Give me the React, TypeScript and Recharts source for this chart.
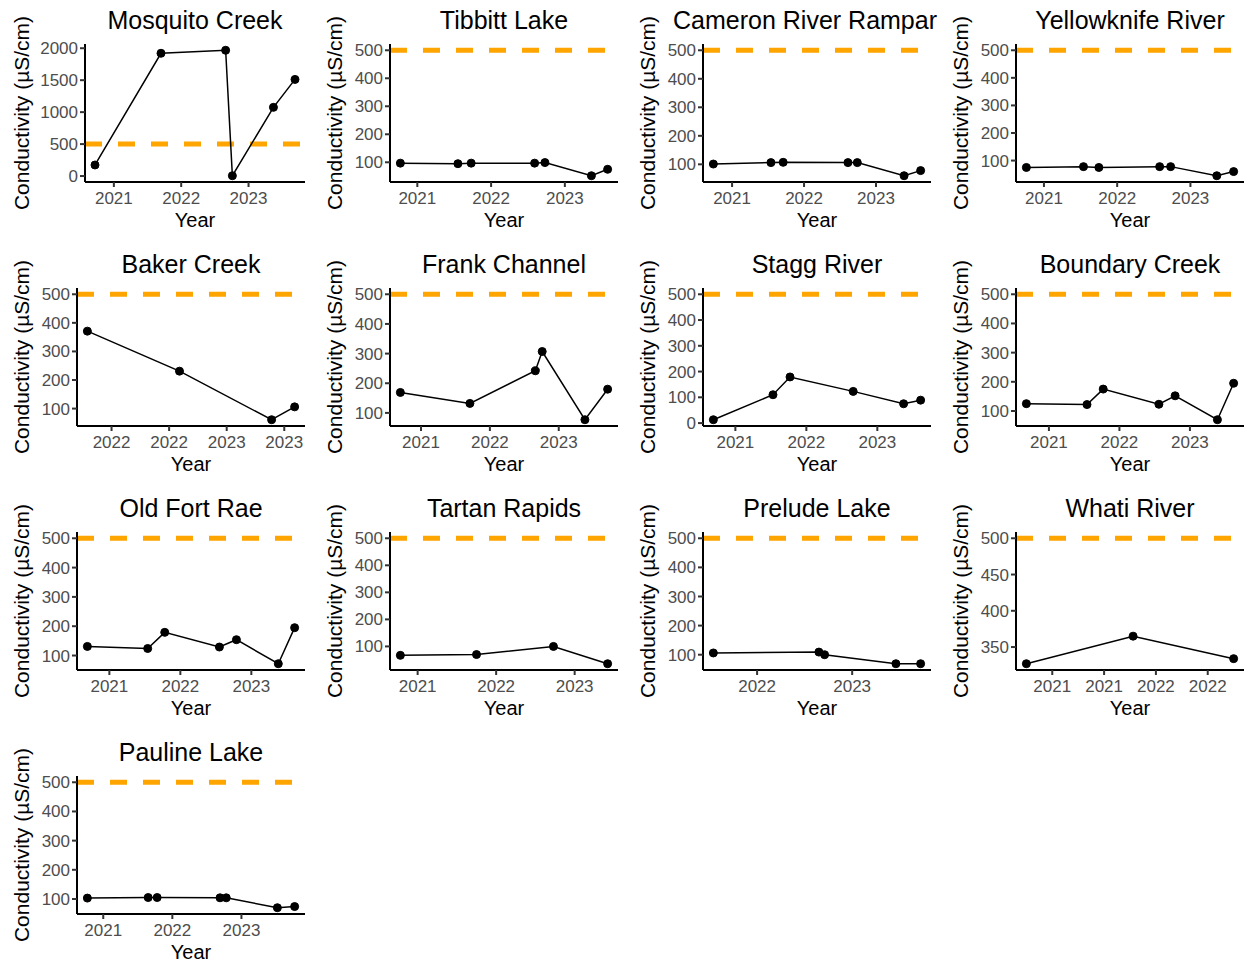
import React from 'react';
import { LineChart, Line, XAxis, YAxis, ReferenceLine } from 'recharts';

// Conductivity guideline (µS/cm), drawn as the dashed orange line
const GUIDELINE = 500;

// Sampling dates as decimal years, conductivity in µS/cm
const mosquitoYears = [2020.72, 2021.7, 2022.66, 2022.76, 2023.37, 2023.69];
const mosquitoValues = [173, 1921, 1968, 5, 1075, 1512];

const tibbittYears = [2020.77, 2021.55, 2021.73, 2022.59, 2022.73, 2023.36, 2023.58];
const tibbittValues = [97, 95, 97, 97, 99, 52, 75];

const cameronYears = [2020.74, 2021.54, 2021.71, 2022.61, 2022.74, 2023.39, 2023.62];
const cameronValues = [101, 106, 107, 106, 106, 60, 78];

const yellowknifeYears = [2020.76, 2021.54, 2021.75, 2022.58, 2022.73, 2023.36, 2023.59];
const yellowknifeValues = [75, 78, 75, 78, 78, 45, 60];

const bakerYears = [2021.79, 2022.59, 2023.39, 2023.59];
const bakerValues = [371, 231, 61, 106];

const frankYears = [2020.7, 2021.71, 2022.66, 2022.76, 2023.38, 2023.71];
const frankValues = [169, 132, 242, 307, 77, 180];

const staggYears = [2020.69, 2021.53, 2021.77, 2022.66, 2023.37, 2023.61];
const staggValues = [13, 110, 179, 123, 75, 89];

const boundaryYears = [2020.68, 2021.54, 2021.77, 2022.56, 2022.79, 2023.39, 2023.62];
const boundaryValues = [125, 122, 175, 123, 152, 70, 195];

const oldFortRaeYears = [2020.69, 2021.54, 2021.78, 2022.55, 2022.79, 2023.38, 2023.61];
const oldFortRaeValues = [131, 124, 179, 129, 154, 72, 195];

const tartanYears = [2020.78, 2021.75, 2022.73, 2023.42];
const tartanValues = [67, 70, 100, 36];

const preludeYears = [2021.54, 2022.65, 2022.71, 2023.46, 2023.72];
const preludeValues = [106, 109, 100, 69, 69];

const whatiYears = [2020.75, 2021.78, 2022.75];
const whatiValues = [327, 365, 334];

const paulineYears = [2020.77, 2021.65, 2021.78, 2022.69, 2022.78, 2023.52, 2023.77];
const paulineValues = [103, 105, 105, 104, 104, 70, 74];

// Axis breaks
const YEAR_TICKS = [2021, 2022, 2023];
const BAKER_TICKS = [2022, 2022.5, 2023, 2023.5];
const PRELUDE_TICKS = [2022, 2023];
const WHATI_X_TICKS = [2021, 2021.5, 2022, 2022.5];

const HUNDREDS = [100, 200, 300, 400, 500];
const HUNDREDS_FROM_ZERO = [0, 100, 200, 300, 400, 500];
const MOSQUITO_Y_TICKS = [0, 500, 1000, 1500, 2000];
const WHATI_Y_TICKS = [350, 400, 450, 500];

interface Station {
  name: string;
  years: number[];
  values: number[];
  xTicks: number[];
  yTicks: number[];
}

const STATIONS: Station[] = [
  { name: 'Mosquito Creek', years: mosquitoYears, values: mosquitoValues, xTicks: YEAR_TICKS, yTicks: MOSQUITO_Y_TICKS },
  { name: 'Tibbitt Lake', years: tibbittYears, values: tibbittValues, xTicks: YEAR_TICKS, yTicks: HUNDREDS },
  { name: 'Cameron River Rampar', years: cameronYears, values: cameronValues, xTicks: YEAR_TICKS, yTicks: HUNDREDS },
  { name: 'Yellowknife River', years: yellowknifeYears, values: yellowknifeValues, xTicks: YEAR_TICKS, yTicks: HUNDREDS },
  { name: 'Baker Creek', years: bakerYears, values: bakerValues, xTicks: BAKER_TICKS, yTicks: HUNDREDS },
  { name: 'Frank Channel', years: frankYears, values: frankValues, xTicks: YEAR_TICKS, yTicks: HUNDREDS },
  { name: 'Stagg River', years: staggYears, values: staggValues, xTicks: YEAR_TICKS, yTicks: HUNDREDS_FROM_ZERO },
  { name: 'Boundary Creek', years: boundaryYears, values: boundaryValues, xTicks: YEAR_TICKS, yTicks: HUNDREDS },
  { name: 'Old Fort Rae', years: oldFortRaeYears, values: oldFortRaeValues, xTicks: YEAR_TICKS, yTicks: HUNDREDS },
  { name: 'Tartan Rapids', years: tartanYears, values: tartanValues, xTicks: YEAR_TICKS, yTicks: HUNDREDS },
  { name: 'Prelude Lake', years: preludeYears, values: preludeValues, xTicks: PRELUDE_TICKS, yTicks: HUNDREDS },
  { name: 'Whati River', years: whatiYears, values: whatiValues, xTicks: WHATI_X_TICKS, yTicks: WHATI_Y_TICKS },
  { name: 'Pauline Lake', years: paulineYears, values: paulineValues, xTicks: YEAR_TICKS, yTicks: HUNDREDS },
];

const FONT = '"Liberation Sans", Arial, sans-serif';
const PANEL_W = 313;
const PANEL_H = 244;
const PLOT_TOP = 44;
const PLOT_RIGHT = 305;
const X_AXIS_H = 62;
const PLOT_BOTTOM = PANEL_H - X_AXIS_H;
const TITLE_RIGHT = PANEL_W - 2;

// ggplot-style 5% padding around the data range
const expand = (lo: number, hi: number): [number, number] => {
  const pad = (hi - lo) * 0.05;
  return [lo - pad, hi + pad];
};

function StationPanel({ station, col, row }: { station: Station; col: number; row: number }) {
  const { name, years, values, xTicks, yTicks } = station;
  const data = years.map((year, i) => ({ year, value: values[i] }));
  const xDomain = expand(Math.min(...years), Math.max(...years));
  const yDomain = expand(Math.min(...values, GUIDELINE), Math.max(...values, GUIDELINE));
  const axisWidth = Math.max(...yTicks) >= 1000 ? 85 : 77;
  const midX = (axisWidth + PLOT_RIGHT) / 2;
  const midY = (PLOT_TOP + PLOT_BOTTOM) / 2;
  // title box is symmetric about the plot centre; long titles get pushed left
  const titleLeft = 2 * midX - TITLE_RIGHT;

  return (
    <div
      style={{
        position: 'absolute',
        left: col * PANEL_W,
        top: row * PANEL_H,
        width: PANEL_W,
        height: PANEL_H,
      }}
    >
      <div
        style={{
          position: 'absolute',
          left: titleLeft,
          width: TITLE_RIGHT - titleLeft,
          top: 8,
          display: 'flex',
          justifyContent: 'flex-end',
          whiteSpace: 'nowrap',
          fontSize: 25,
          lineHeight: 1,
          color: '#000',
        }}
      >
        <span style={{ marginLeft: 'auto', marginRight: 'auto' }}>{name}</span>
      </div>
      <LineChart
        width={PANEL_W}
        height={PANEL_H}
        data={data}
        margin={{ top: PLOT_TOP, right: PANEL_W - PLOT_RIGHT, bottom: 0, left: 0 }}
      >
        <XAxis
          dataKey="year"
          type="number"
          domain={xDomain}
          allowDataOverflow
          ticks={xTicks}
          interval={0}
          tickFormatter={(v: number) => String(Math.floor(v))}
          height={X_AXIS_H}
          axisLine={{ stroke: '#000', strokeWidth: 2 }}
          tickLine={{ stroke: '#333', strokeWidth: 2 }}
          tickSize={5}
          tickMargin={5}
          tick={{ fill: '#4D4D4D', fontSize: 17 }}
          label={{
            value: 'Year',
            content: () => (
              <text x={midX} y={227} textAnchor="middle" fontSize={20} fill="#000">
                Year
              </text>
            ),
          }}
        />
        <YAxis
          type="number"
          domain={yDomain}
          allowDataOverflow
          ticks={yTicks}
          interval={0}
          width={axisWidth}
          axisLine={{ stroke: '#000', strokeWidth: 2 }}
          tickLine={{ stroke: '#333', strokeWidth: 2 }}
          tickSize={5}
          tickMargin={2}
          tick={{ fill: '#4D4D4D', fontSize: 17 }}
          label={{
            value: 'Conductivity (µS/cm)',
            content: () => (
              <text
                x={29}
                y={midY}
                transform={`rotate(-90, 29, ${midY})`}
                textAnchor="middle"
                fontSize={21}
                fill="#000"
              >
                Conductivity (µS/cm)
              </text>
            ),
          }}
        />
        <ReferenceLine y={GUIDELINE} stroke="#FFA500" strokeWidth={5} strokeDasharray="17 16" />
        <Line
          type="linear"
          dataKey="value"
          stroke="#000"
          strokeWidth={1.5}
          dot={{ r: 4, fill: '#000', stroke: '#000', strokeWidth: 1 }}
          activeDot={false}
          isAnimationActive={false}
        />
      </LineChart>
    </div>
  );
}

export default function App() {
  return (
    <div
      style={{
        position: 'absolute',
        left: 0,
        top: 0,
        width: 1247,
        height: 967,
        overflow: 'hidden',
        background: '#fff',
        fontFamily: FONT,
      }}
    >
      {STATIONS.map((station, i) => (
        <StationPanel key={station.name} station={station} col={i % 4} row={Math.floor(i / 4)} />
      ))}
    </div>
  );
}
